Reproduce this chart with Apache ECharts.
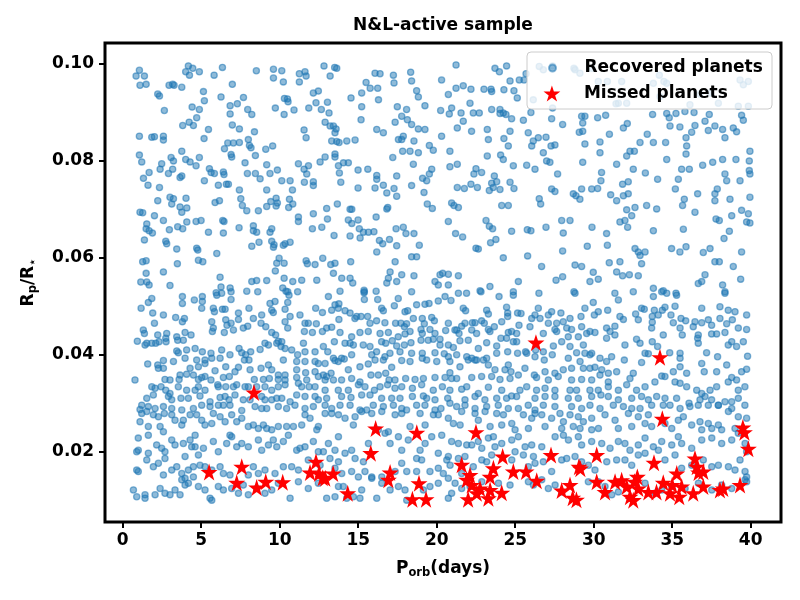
<!DOCTYPE html>
<html>
<head>
<meta charset="utf-8">
<script src="https://cdn.jsdelivr.net/npm/echarts@6/dist/echarts.min.js"></script>
<style>
  html, body { margin: 0; padding: 0; background: #fff; }
  #container { width: 800px; height: 600px; }
</style>
</head>
<body>
<div id="container"></div>
<script>
// ticks
const xTicks = [0, 5, 10, 15, 20, 25, 30, 35, 40];
const yTicks = [0.02, 0.04, 0.06, 0.08, 0.10];

// [P_orb (days), Rp/R*], upper half
const recoveredUpper = [
  [0.85,0.0975],[1.06,0.0987],[1.38,0.0975],[1.1,0.0956],[1.49,0.0958],[2.23,0.0938],[2.34,0.0934],[2.95,0.0956],[3.18,0.0958],[3.27,0.0956],[3.76,0.0952],[2.65,0.0904],[4.01,0.0984],[4.18,0.0996],[4.25,0.0977],[4.46,0.0991],[4.88,0.0984],[5.14,0.0943],[5.2,0.0924],[4.88,0.0906],[4.71,0.0889],[4.23,0.088],[3.82,0.0873],[4.5,0.0873],[4.42,0.0911],[5.46,0.0865],[5.18,0.0846],[5.82,0.0977],[6.35,0.0993],[6.26,0.0932],[6.98,0.0958],[6.84,0.0914],[6.84,0.0897],[6.98,0.0874],[7.3,0.0918],[7.43,0.0866],[7.69,0.0931],[7.96,0.0906],[8.22,0.0896],[8.51,0.0986],[9.6,0.0989],[10.13,0.0986],[9.6,0.0971],[10.23,0.0963],[9.72,0.0909],[10.3,0.0929],[10.49,0.0928],[10.53,0.0922],[10.28,0.0896],[10.91,0.0905],[11.25,0.098],[11.61,0.0984],[11.68,0.0975],[11.25,0.0963],[11.55,0.0864],[11.68,0.0848],[12.14,0.094],[12.46,0.0944],[12.31,0.092],[11.85,0.0909],[12.65,0.0906],[12.82,0.0996],[13.5,0.0993],[13.63,0.0991],[13.21,0.0975],[13.04,0.0921],[13.14,0.0899],[12.89,0.088],[13.21,0.0872],[13.42,0.0872],[13.52,0.0858],[13.59,0.0866],[13.63,0.084],[13.78,0.0838],[13.31,0.0841],[14.27,0.0841],[14.54,0.093],[15.22,0.094],[15.5,0.0962],[15.76,0.095],[16.07,0.0981],[16.39,0.098],[16.24,0.095],[16.29,0.0926],[15.22,0.0912],[15.18,0.0885],[16.18,0.0865],[16.6,0.0858],[17.24,0.0977],[17.28,0.0961],[17.49,0.0912],[17.35,0.088],[17.56,0.0844],[14.8,0.0843],
  [1.06,0.0851],[1.06,0.0812],[1.21,0.0798],[1.85,0.0849],[2.02,0.085],[2.59,0.0851],[2.59,0.0843],[1.32,0.0764],[1.68,0.0776],[1.61,0.075],[2.38,0.0783],[2.48,0.0794],[2.91,0.0774],[3.08,0.0807],[3.23,0.08],[3.18,0.0783],[3.76,0.082],[4.01,0.0803],[3.65,0.0766],[3.76,0.0769],[4.29,0.0798],[4.67,0.079],[4.88,0.0807],[5.2,0.0759],[5.52,0.0784],[5.63,0.0776],[5.84,0.0774],[6.41,0.0777],[6.45,0.0772],[6.09,0.075],[6.6,0.0752],[6.73,0.0752],[6.48,0.0825],[6.9,0.0813],[6.94,0.0808],[6.69,0.0837],[7.05,0.0837],[7.43,0.0838],[8.0,0.0844],[8.07,0.0832],[8.17,0.0827],[8.45,0.0811],[7.79,0.0796],[7.94,0.0774],[8.45,0.0774],[8.75,0.0763],[8.39,0.086],[9.17,0.0792],[9.38,0.0774],[9.55,0.0831],[9.11,0.0824],[9.85,0.0781],[10.13,0.0759],[10.66,0.0759],[10.81,0.074],[11.19,0.0794],[11.55,0.0783],[11.83,0.079],[11.72,0.0773],[11.57,0.0756],[12.14,0.0749],[12.14,0.0757],[12.57,0.0798],[12.89,0.0808],[13.52,0.0814],[13.52,0.0808],[13.74,0.079],[14.06,0.0796],[14.37,0.0796],[13.8,0.0775],[13.89,0.0756],[14.99,0.0781],[14.99,0.0744],[15.61,0.0783],[16.18,0.0762],[16.18,0.077],[16.6,0.075],[16.07,0.0744],[17.2,0.0807],[17.45,0.0769],[17.28,0.0743],[16.82,0.0734],
  [2.34,0.0745],[2.23,0.0718],[3.01,0.0725],[3.12,0.0711],[3.23,0.0722],[4.03,0.0723],[3.65,0.0705],[3.76,0.0694],[4.08,0.0703],[1.1,0.0694],[1.27,0.0693],[2.02,0.0687],[1.53,0.067],[1.49,0.066],[1.68,0.0656],[1.89,0.0651],[1.38,0.0637],[2.59,0.0677],[2.97,0.0658],[2.74,0.0634],[2.8,0.0629],[3.44,0.0618],[3.5,0.0664],[3.82,0.066],[4.08,0.0674],[4.67,0.0675],[4.99,0.0677],[4.71,0.062],[4.78,0.0616],[5.46,0.0653],[5.88,0.0714],[6.16,0.0718],[6.37,0.0677],[6.45,0.0675],[6.41,0.0651],[5.99,0.0609],[7.41,0.0662],[7.62,0.0708],[7.52,0.0722],[7.43,0.074],[7.9,0.0697],[8.32,0.0666],[8.32,0.0656],[8.53,0.0653],[8.68,0.0632],[8.22,0.0624],[8.64,0.0697],[9.17,0.0706],[9.38,0.0653],[9.49,0.066],[9.17,0.074],[9.77,0.0723],[9.85,0.0713],[9.43,0.0716],[9.77,0.0707],[9.49,0.0634],[9.64,0.0627],[9.6,0.0622],[10.23,0.0626],[10.34,0.0629],[9.96,0.0599],[10.62,0.0721],[10.57,0.0704],[10.83,0.0711],[10.66,0.0632],[11.19,0.0684],[11.19,0.0675],[12.08,0.066],[12.14,0.0691],[12.68,0.0663],[12.99,0.0702],[13.46,0.0646],[13.04,0.068],[13.67,0.0711],[14.48,0.07],[14.59,0.07],[14.59,0.0671],[14.48,0.0645],[14.37,0.0678],[14.99,0.0678],[15.07,0.066],[15.12,0.0641],[15.33,0.0653],[15.65,0.0653],[16.0,0.0654],[16.14,0.0684],[16.35,0.0636],[16.56,0.0629],[16.82,0.0701],[16.88,0.0704],[16.99,0.0638],[17.41,0.066],[17.45,0.0625],[17.45,0.0727],[16.18,0.0612],[17.35,0.0592],
  [1.27,0.0592],[1.49,0.0594],[1.49,0.0568],[1.15,0.055],[1.53,0.055],[1.68,0.0544],[2.59,0.0571],[3.01,0.0543],[3.48,0.0588],[4.82,0.0595],[5.1,0.0592],[6.2,0.056],[6.26,0.054],[5.95,0.0528],[6.84,0.0538],[8.22,0.0551],[8.53,0.0553],[9.17,0.0553],[9.81,0.0589],[9.72,0.0573],[10.28,0.0589],[10.28,0.0558],[10.19,0.0538],[10.83,0.0551],[10.4,0.0531],[11.4,0.0554],[11.68,0.0594],[11.76,0.0588],[12.25,0.0586],[12.36,0.0554],[12.74,0.0599],[13.25,0.0586],[13.42,0.0568],[13.52,0.0589],[13.95,0.0558],[14.52,0.0592],[14.48,0.0558],[14.65,0.0548],[15.37,0.0533],[15.37,0.0528],[16.82,0.0548],[16.92,0.0558],[17.03,0.0571],[17.45,0.0551],[16.14,0.0531],[13.84,0.0531],[7.9,0.0531],
  [21.23,0.0998],[18.34,0.0983],[18.4,0.0965],[18.72,0.0945],[18.83,0.0932],[20.31,0.0967],[20.74,0.0937],[21.23,0.095],[21.69,0.0955],[22.18,0.0948],[23.01,0.0948],[23.46,0.0948],[23.5,0.0943],[23.71,0.0991],[23.99,0.0984],[24.45,0.0996],[24.67,0.0965],[24.92,0.0945],[25.13,0.093],[25.26,0.0967],[25.56,0.0967],[25.69,0.098],[24.28,0.0947],[22.12,0.0919],[21.55,0.0899],[20.95,0.0909],[20.25,0.0904],[20.8,0.0897],[19.25,0.0914],[18.08,0.0906],[17.77,0.0892],[22.33,0.0899],[22.71,0.0899],[23.5,0.0906],[24.03,0.0906],[24.24,0.0899],[24.41,0.0896],[24.77,0.0887],[24.03,0.0898],[25.52,0.0884],[26.0,0.09],[27.38,0.0996],[26.53,0.0995],[26.79,0.0988],[28.74,0.0991],[28.81,0.0988],[30.29,0.0964],[30.87,0.0964],[31.78,0.0964],[31.57,0.0919],[32.1,0.0919],[31.42,0.0918],[33.8,0.096],[34.18,0.0977],[34.47,0.0964],[34.65,0.096],[34.22,0.0933],[36.13,0.0916],[36.77,0.0938],[37.41,0.094],[37.94,0.0919],[39.32,0.0967],[39.85,0.0964],[39.53,0.0957],[39.21,0.0913],[39.85,0.0913],[26.15,0.0926],[27.38,0.0909],[29.12,0.0981],[29.87,0.0991],
  [29.23,0.0892],[29.3,0.0878],[29.44,0.0892],[30.25,0.0889],[30.76,0.0894],[32.14,0.0877],[31.89,0.0868],[33.75,0.0896],[34.65,0.0898],[34.81,0.0889],[35.24,0.0898],[35.49,0.087],[35.81,0.0902],[36.39,0.09],[37.09,0.0882],[37.36,0.0896],[39.42,0.0894],[39.53,0.0884],[38.89,0.0868],[38.21,0.0865],[38.36,0.0848],[39.1,0.086],[37.72,0.0872],[37.3,0.0863],[36.45,0.0873],[36.24,0.0859],[35.88,0.0848],[35.92,0.0831],[35.88,0.0814],[34.86,0.0872],[34.58,0.0838],[33.8,0.0838],[33.41,0.0855],[32.95,0.0838],[32.31,0.082],[32.59,0.082],[32.1,0.081],[31.0,0.0855],[30.4,0.0839],[30.4,0.0817],[29.44,0.0835],[29.08,0.0859],[29.3,0.0861],[28.02,0.0875],[27.32,0.0887],[27.28,0.0831],[27.53,0.0833],[26.79,0.0817],[27.0,0.08],[27.21,0.0797],[26.96,0.0849],[26.47,0.0848],[26.15,0.0841],[26.05,0.0831],[25.83,0.0858],[24.67,0.0861],[24.28,0.0846],[24.56,0.0831],[24.07,0.0812],[24.24,0.0803],[23.22,0.0865],[23.29,0.0844],[23.22,0.081],[22.22,0.0861],[21.69,0.0882],[21.31,0.0868],[20.84,0.082],[19.53,0.0832],[19.78,0.0822],[19.25,0.0865],[18.83,0.0866],[18.4,0.0875],[18.13,0.0885],[17.87,0.0851],[17.77,0.0844],[18.55,0.0841],[18.83,0.0817],[18.3,0.082],[17.83,0.082],[20.31,0.0851],
  [18.51,0.0793],[19.68,0.0783],[19.53,0.0773],[19.1,0.0764],[19.36,0.0759],[18.4,0.0749],[19.19,0.0735],[19.4,0.0711],[19.72,0.0702],[20.84,0.0788],[21.31,0.0793],[20.95,0.0713],[21.1,0.0708],[21.38,0.0704],[21.31,0.0745],[21.76,0.0743],[22.18,0.0752],[22.5,0.0784],[22.37,0.0773],[22.86,0.0776],[22.59,0.0745],[23.35,0.0739],[23.6,0.0745],[23.5,0.0754],[23.67,0.0769],[23.82,0.0757],[24.03,0.0741],[24.67,0.0756],[24.92,0.0743],[24.88,0.079],[25.73,0.0791],[26.26,0.0783],[24.14,0.0708],[24.56,0.0708],[26.53,0.0722],[26.62,0.0711],[27.32,0.0742],[27.53,0.0737],[27.7,0.0773],[28.87,0.0728],[29.12,0.0721],[29.23,0.0742],[29.87,0.0742],[30.25,0.0743],[30.46,0.0759],[30.5,0.0776],[31.08,0.073],[31.46,0.0718],[31.46,0.0793],[31.84,0.0752],[31.89,0.0728],[32.2,0.0757],[32.2,0.0732],[32.1,0.0699],[32.63,0.0704],[32.52,0.0783],[33.29,0.0775],[33.37,0.0708],[34.07,0.0762],[34.01,0.0701],[34.65,0.0803],[35.2,0.0742],[35.39,0.0762],[35.6,0.0783],[35.77,0.0721],[35.66,0.0708],[36.09,0.0783],[36.62,0.0732],[36.94,0.0791],[37.58,0.0797],[37.72,0.0732],[37.72,0.0718],[37.87,0.0742],[38.68,0.0721],[38.36,0.0773],[38.47,0.0759],[38.21,0.0803],[39.32,0.0759],[39.95,0.082],[39.91,0.08],[39.91,0.078],[39.95,0.0773],[39.95,0.0725],[39.42,0.0698],[39.06,0.0803],[36.45,0.0694],[29.3,0.0797],[28.7,0.0732],
  [17.87,0.0663],[18.04,0.065],[18.55,0.065],[18.89,0.0626],[18.4,0.0602],[18.72,0.0602],[20.74,0.0675],[21.2,0.065],[21.65,0.0643],[22.5,0.062],[22.65,0.0618],[23.14,0.0677],[23.35,0.0665],[23.56,0.066],[23.43,0.0631],[23.77,0.0638],[24.24,0.06],[24.77,0.0655],[25.77,0.0658],[26.0,0.0656],[25.79,0.0604],[26.96,0.0663],[27.96,0.0677],[28.49,0.0677],[28.06,0.0651],[28.02,0.0614],[29.59,0.0624],[29.89,0.0663],[30.82,0.065],[30.87,0.0626],[31.67,0.0674],[31.99,0.0677],[32.16,0.0663],[32.42,0.0687],[32.63,0.0619],[32.84,0.0612],[32.95,0.0605],[33.27,0.0612],[33.8,0.0656],[34.96,0.0619],[35.49,0.0612],[35.71,0.0659],[35.88,0.0623],[36.98,0.0611],[37.41,0.0619],[37.79,0.068],[38.0,0.0677],[38.79,0.0687],[38.64,0.0655],[38.3,0.064],[37.72,0.0592],[38.0,0.0592],[39.42,0.0612],[39.85,0.0691],[39.74,0.0674],[39.95,0.0672],[38.89,0.0582],
  [17.77,0.0565],[18.55,0.0563],[19.89,0.0551],[20.21,0.0565],[20.38,0.0568],[20.74,0.0566],[21.38,0.0563],[20.1,0.0544],[20.74,0.0544],[22.76,0.0532],[23.39,0.0541],[24.88,0.053],[25.2,0.0551],[26.68,0.0582],[27.6,0.0554],[28.02,0.0561],[28.81,0.0585],[29.23,0.0582],[29.97,0.057],[29.76,0.0551],[30.29,0.0556],[30.99,0.059],[31.46,0.0571],[31.67,0.0592],[31.84,0.0563],[32.27,0.0565],[32.84,0.0563],[33.05,0.0588],[33.8,0.0537],[34.43,0.0532],[35.24,0.0527],[36.66,0.0547],[36.88,0.0551],[37.09,0.0565],[38.21,0.0544],[38.36,0.053],[39.36,0.0556],[28.74,0.053],[21.9,0.0527]
];

const recoveredLower = [
  [1.85,0.0516],[3.8,0.052],[3.8,0.0506],[5.07,0.052],[5.07,0.051],[5.99,0.0523],[6.3,0.0527],[6.9,0.053],[6.9,0.0514],[8.6,0.053],[10.51,0.053],[10.59,0.0523],[11.14,0.053],[13.1,0.052],[5.03,0.0496],[1.17,0.0496],[1.63,0.0508],
  [1.91,0.0486],[2.59,0.0482],[3.37,0.0477],[3.8,0.0468],[3.93,0.0475],[4.56,0.0513],[5.77,0.0496],[5.84,0.0489],[6.35,0.0494],[6.52,0.0494],[6.56,0.0472],[6.9,0.0465],[7.37,0.0486],[7.37,0.0473],[8.04,0.0496],[8.32,0.0475],[8.85,0.0482],[9.38,0.0506],[9.49,0.0492],[9.7,0.051],[9.59,0.0487],[10.34,0.0494],[10.51,0.0508],[10.66,0.0479],[11.29,0.0482],[11.61,0.0465],[12.29,0.0496],[12.72,0.0487],[13.31,0.0492],[13.52,0.0503],[10.34,0.0468],
  [2.02,0.0465],[1.31,0.0451],[1.38,0.0444],[0.93,0.0428],[1.53,0.0424],[2.23,0.0441],[2.31,0.0427],[2.8,0.0444],[2.74,0.0434],[3.44,0.0437],[3.5,0.043],[3.97,0.0446],[3.86,0.043],[4.35,0.0441],[5.67,0.0468],[5.77,0.0455],[5.71,0.0448],[6.47,0.0446],[6.64,0.0461],[7.05,0.0451],[7.68,0.0455],[7.96,0.0459],[8.81,0.0465],[9.11,0.0458],[9.49,0.0446],[9.74,0.0441],[9.91,0.0428],[10.13,0.0427],[10.51,0.0455],[11.82,0.0465],[12.08,0.0446],[12.33,0.0464],[12.72,0.0448],[12.99,0.0455],[13.31,0.0457],[11.57,0.0448],[13.48,0.0427],[11.51,0.0424],
  [1.42,0.042],[1.85,0.0424],[2.1,0.0424],[2.76,0.0427],[3.44,0.0408],[3.54,0.0404],[4.07,0.041],[4.61,0.0413],[5.07,0.0406],[5.62,0.0403],[6.3,0.041],[6.83,0.04],[7.41,0.0413],[7.58,0.0404],[7.83,0.04],[8.04,0.0389],[8.15,0.0406],[7.75,0.0389],[8.75,0.0411],[9.06,0.0424],[9.28,0.042],[9.81,0.0424],[10.08,0.0417],[10.34,0.0413],[10.76,0.041],[11.14,0.04],[11.61,0.0406],[12.25,0.0406],[12.78,0.0417],[13.06,0.0406],[13.42,0.0393],[1.59,0.0381],[2.23,0.0379],[2.59,0.0388],[3.23,0.0386],[3.97,0.0393],[4.71,0.0389],[5.24,0.0389],[5.67,0.0393],[6.2,0.0393],[10.23,0.0389],[11.08,0.0386],[11.61,0.0386],[12.25,0.0386],[12.46,0.0382],[12.89,0.0382],[13.52,0.0388],
  [2.27,0.0372],[2.59,0.0372],[3.65,0.0358],[4.07,0.036],[4.29,0.0372],[4.82,0.0375],[5.24,0.0382],[5.88,0.0367],[6.56,0.0375],[7.37,0.0374],[7.15,0.0365],[8.11,0.0369],[8.81,0.0372],[9.28,0.0379],[9.49,0.0369],[9.91,0.0358],[10.34,0.0358],[11.08,0.0369],[11.65,0.0363],[12.25,0.0365],[12.78,0.0358],[12.89,0.0348],[13.27,0.0362],[0.78,0.0348],[1.85,0.0334],[2.69,0.0349],[3.01,0.0348],[3.59,0.0349],[4.5,0.0358],[4.82,0.0349],[5.03,0.0353],[5.24,0.0355],[5.62,0.0348],[6.05,0.0338],[6.41,0.0353],[6.79,0.0355],[7.26,0.0338],[7.79,0.0334],[8.38,0.0349],[8.96,0.0349],[9.34,0.0351],[9.91,0.0349],[10.34,0.0348],[11.08,0.0353],[11.19,0.0341],[11.72,0.0348],[12.46,0.0355],[12.99,0.0355],[13.42,0.0348],
  [2.06,0.0331],[2.44,0.0334],[2.74,0.0327],[3.01,0.032],[3.54,0.0334],[4.07,0.0327],[4.61,0.0327],[4.82,0.0334],[5.24,0.0327],[6.09,0.0334],[6.56,0.0334],[7.05,0.0334],[8.0,0.0334],[8.53,0.0334],[9.06,0.0334],[9.49,0.0327],[9.91,0.0334],[10.34,0.0338],[11.4,0.0334],[11.87,0.0334],[12.25,0.0334],[12.89,0.0327],[1.53,0.031],[1.95,0.0317],[2.91,0.0314],[3.12,0.0307],[3.71,0.031],[4.18,0.031],[4.92,0.0315],[5.56,0.0303],[6.2,0.0312],[6.52,0.0314],[6.77,0.0307],[7.15,0.0317],[7.68,0.0307],[8.11,0.0307],[8.85,0.0314],[9.06,0.0307],[9.49,0.0307],[9.81,0.031],[10.13,0.031],[10.66,0.0303],[11.08,0.0317],[11.61,0.0314],[12.25,0.0314],[12.46,0.0307],[12.99,0.031],[1.21,0.0296],[1.1,0.0287],[1.63,0.0293],[2.06,0.0289],[2.59,0.0293],[3.12,0.0289],[3.76,0.0286],[4.5,0.0289],[5.03,0.0296],[5.56,0.0293],[6.09,0.0296],[6.41,0.0296],[6.83,0.0296],[7.58,0.0285],[8.43,0.0293],[8.85,0.0289],[9.17,0.0289],[9.91,0.0293],[10.44,0.0289],[10.97,0.0296],[11.61,0.0289],[12.14,0.0293],[12.89,0.0296],[13.31,0.0289],
  [15.39,0.053],[15.39,0.0514],[16.24,0.0514],[17.55,0.0516],[18.4,0.053],[18.72,0.0503],[19.25,0.0504],[19.51,0.0506],[20.1,0.0511],[20.53,0.052],[20.91,0.0512],[21.38,0.0527],[21.69,0.0496],[21.84,0.0491],[22.82,0.053],[23.18,0.0492],[23.29,0.0484],[23.97,0.052],[24.45,0.0498],[24.52,0.0486],[24.88,0.0523],[25.15,0.0486],[25.37,0.0485],[26.26,0.0482],[26.51,0.0527],[26.47,0.0496],[27.11,0.0482],[27.32,0.0489],[27.91,0.0486],[13.77,0.0505],[13.73,0.0496],[14.16,0.0491],[14.48,0.0486],[14.79,0.0475],[14.9,0.0479],[15.18,0.0479],[15.6,0.0479],[13.77,0.0473],[16.49,0.0496],[16.6,0.0491],[17.3,0.0501],[17.98,0.0489],[18.15,0.0491],
  [15.75,0.0465],[16.17,0.047],[16.7,0.0466],[17.38,0.0465],[17.72,0.0465],[17.94,0.0458],[18.08,0.0464],[18.51,0.0475],[19.08,0.0475],[19.21,0.0464],[19.68,0.0477],[19.85,0.047],[20.74,0.0465],[21.27,0.0451],[21.59,0.0459],[21.8,0.0465],[22.27,0.0466],[22.44,0.0466],[22.86,0.047],[23.03,0.0465],[23.29,0.0452],[23.67,0.0458],[24.14,0.0468],[24.52,0.0479],[24.77,0.0448],[25.24,0.0461],[25.94,0.0458],[26.05,0.0475],[26.58,0.0475],[27.11,0.0465],[27.64,0.0465],[28.06,0.0468],[13.84,0.0446],[14.58,0.0437],[15.11,0.0446],[15.64,0.0448],[16.39,0.0444],[16.92,0.0446],[17.55,0.0437],[17.98,0.0443],[18.3,0.0448],[19.0,0.0452],[19.08,0.0444],[19.57,0.0452],[19.89,0.0444],[20.57,0.045],[21.16,0.0451],[21.42,0.0444],[22.23,0.0451],[22.54,0.0444],[23.39,0.0448],[24.56,0.0446],[25.09,0.0444],[26.79,0.0444],[27.53,0.0452],[27.64,0.0448],
  [14.16,0.0424],[14.48,0.0424],[14.69,0.042],[15.32,0.042],[15.75,0.0417],[16.49,0.0427],[16.75,0.0424],[17.17,0.0429],[17.45,0.0418],[17.94,0.042],[18.36,0.0425],[19.0,0.043],[19.46,0.043],[19.78,0.0432],[20.21,0.0432],[20.21,0.042],[20.74,0.042],[21.06,0.0415],[21.48,0.0429],[22.01,0.043],[22.65,0.0413],[23.18,0.0425],[23.82,0.0418],[24.09,0.0434],[24.45,0.0434],[24.88,0.0427],[25.09,0.0427],[25.73,0.0403],[26.3,0.041],[26.79,0.0406],[27.43,0.0418],[27.96,0.0427],[13.94,0.0393],[14.58,0.04],[15.86,0.04],[16.17,0.0406],[16.7,0.0396],[17.02,0.0403],[17.66,0.0406],[18.4,0.0403],[19.08,0.0403],[19.89,0.0404],[20.48,0.0402],[20.74,0.0396],[21.27,0.04],[21.91,0.0396],[22.23,0.0393],[22.54,0.0389],[23.18,0.0393],[23.82,0.0403],[24.52,0.0406],[25.15,0.0403],[25.66,0.0406],[26.26,0.0396],[26.85,0.0389],[27.36,0.04],
  [13.73,0.0386],[14.11,0.0391],[14.37,0.0369],[15.11,0.0375],[15.64,0.0381],[16.07,0.0389],[16.6,0.0389],[17.13,0.0374],[17.77,0.0388],[18.3,0.0386],[19.08,0.0393],[19.36,0.0389],[20.0,0.0386],[20.84,0.0386],[21.48,0.0375],[22.01,0.0389],[22.44,0.0389],[22.97,0.0389],[23.29,0.0379],[23.71,0.0369],[24.35,0.0369],[24.56,0.0379],[24.73,0.0365],[25.62,0.0372],[26.22,0.0358],[26.9,0.0365],[27.53,0.0362],[28.06,0.0369],[13.94,0.0348],[14.58,0.0351],[15.11,0.0344],[15.81,0.0358],[16.28,0.0358],[16.75,0.0362],[16.96,0.0348],[17.34,0.0348],[18.02,0.0351],[18.62,0.0349],[19.15,0.0351],[19.89,0.0353],[20.53,0.0353],[20.84,0.0363],[20.95,0.0351],[21.27,0.0351],[22.23,0.0353],[22.86,0.0355],[23.5,0.0355],[24.03,0.0349],[24.67,0.0351],[25.2,0.0358],[26.36,0.0353],[27.11,0.0348],[27.74,0.0355],
  [13.73,0.0327],[14.37,0.0327],[15.01,0.0338],[15.43,0.0334],[16.03,0.0327],[16.39,0.0334],[16.87,0.0338],[17.34,0.0331],[17.77,0.0334],[18.45,0.0331],[19.04,0.0338],[19.78,0.0327],[20.36,0.0334],[20.84,0.0327],[21.59,0.0329],[21.91,0.0334],[22.65,0.032],[23.29,0.0333],[24.14,0.0327],[24.77,0.0315],[25.3,0.0327],[25.73,0.0334],[26.36,0.0327],[26.9,0.0331],[27.53,0.0327],[13.94,0.0314],[14.54,0.0312],[15.22,0.0317],[15.75,0.0317],[16.49,0.031],[17.13,0.031],[17.66,0.031],[18.45,0.0314],[19.15,0.0315],[19.36,0.031],[19.89,0.0307],[20.7,0.031],[21.8,0.0307],[22.44,0.0314],[23.07,0.0307],[23.82,0.031],[24.45,0.031],[25.09,0.0314],[26.26,0.031],[26.9,0.0314],[27.53,0.0314],[13.84,0.0296],[14.48,0.0296],[15.11,0.0286],[15.54,0.0286],[15.96,0.0296],[16.6,0.0293],[17.24,0.0296],[17.77,0.0289],[18.08,0.0286],[18.72,0.0296],[19.25,0.0296],[19.89,0.0286],[20.27,0.0289],[20.84,0.03],[21.27,0.0293],[21.8,0.0296],[22.44,0.0289],[23.18,0.0293],[23.92,0.0296],[24.56,0.0289],[25.2,0.0289],[25.83,0.0296],[26.26,0.0286],[26.79,0.0296],[27.53,0.0293],
  [28.81,0.0527],[29.97,0.0508],[30.89,0.0492],[31.35,0.0527],[31.57,0.0513],[32.52,0.053],[33.8,0.052],[34.33,0.053],[34.65,0.0527],[35.28,0.0523],[35.18,0.05],[34.54,0.0498],[33.86,0.0492],[33.05,0.0496],[33.22,0.0494],[36.88,0.0496],[38.04,0.0499],[38.36,0.0527],[38.57,0.0492],[39.0,0.0489],[39.74,0.0482],[29.44,0.0496],[30.29,0.0489],[29.19,0.0479],[30.04,0.0482],[28.49,0.0475],
  [28.28,0.0455],[28.59,0.0452],[29.23,0.0458],[29.76,0.0448],[30.08,0.0446],[30.82,0.0455],[31.04,0.0448],[31.35,0.0459],[31.89,0.0473],[31.67,0.0479],[32.67,0.0484],[32.84,0.0472],[33.73,0.0479],[33.73,0.0467],[34.11,0.0482],[34.37,0.0492],[34.92,0.0482],[35.07,0.0466],[35.56,0.0475],[35.86,0.047],[36.34,0.0458],[36.45,0.0468],[36.88,0.0466],[37.3,0.0472],[37.51,0.0461],[38.04,0.0475],[38.47,0.0464],[38.83,0.0472],[39.21,0.0455],[39.74,0.0452],[33.69,0.0455],[34.43,0.0441],[35.5,0.0455],[35.64,0.0441],[36.66,0.0441],[37.51,0.0443],[37.83,0.0443],[38.36,0.0446],
  [28.38,0.0437],[29.02,0.0437],[29.34,0.042],[29.55,0.0444],[29.87,0.0403],[30.82,0.0434],[31.35,0.0441],[31.99,0.042],[32.73,0.0432],[32.95,0.0424],[33.73,0.0427],[33.27,0.0403],[33.48,0.0402],[34.07,0.0417],[34.84,0.0404],[35.5,0.0403],[35.5,0.0393],[36.62,0.0434],[36.66,0.0424],[37.19,0.0404],[37.89,0.0396],[38.57,0.042],[38.79,0.0427],[39.1,0.0417],[39.53,0.0427],[39.8,0.0397],[28.49,0.0417],[28.91,0.0404],[28.38,0.0393],[29.44,0.0403],[29.76,0.04],[30.4,0.0393],[30.82,0.0386],[31.14,0.0396],[31.95,0.0389],
  [28.59,0.0372],[29.13,0.0386],[29.34,0.0372],[29.76,0.0372],[30.08,0.0374],[30.51,0.0369],[30.93,0.0362],[31.46,0.0365],[32.52,0.0362],[32.31,0.0351],[33.05,0.0384],[34.33,0.0356],[35.07,0.0365],[35.5,0.0375],[35.92,0.0362],[36.88,0.0382],[37.04,0.0365],[37.83,0.0365],[38.47,0.0379],[38.79,0.0353],[39.1,0.0348],[39.42,0.0365],[39.74,0.037],[28.59,0.0348],[29.23,0.0349],[29.87,0.0348],[30.4,0.0358],[30.93,0.0344],
  [28.49,0.0327],[28.91,0.0327],[29.76,0.0327],[30.29,0.0327],[30.93,0.0334],[31.57,0.0327],[32.1,0.0338],[32.73,0.0327],[33.27,0.0334],[33.9,0.0344],[34.54,0.0355],[35.18,0.0344],[35.5,0.0341],[35.92,0.0334],[36.56,0.0327],[36.88,0.032],[37.41,0.0327],[37.83,0.0334],[38.57,0.0344],[39.21,0.0327],[39.63,0.0334],[28.38,0.031],[29.02,0.031],[29.87,0.0314],[30.46,0.0317],[30.93,0.0314],[31.57,0.0307],[32.42,0.031],[33.05,0.0314],[33.48,0.0307],[34.01,0.0314],[34.54,0.031],[35.28,0.031],[36.07,0.03],[36.77,0.0307],[37.09,0.0314],[37.51,0.0307],[37.94,0.0296],[38.36,0.0303],[38.79,0.0303],[39.21,0.031],[28.59,0.0293],[29.23,0.0289],[29.76,0.0296],[30.4,0.0289],[31.25,0.0296],[31.89,0.0293],[32.42,0.0289],[32.95,0.0289],[33.69,0.0296],[34.43,0.0296],[34.86,0.0296],[35.5,0.0289],[36.13,0.0293],[36.66,0.0296],[37.3,0.0296],[37.94,0.0296],[38.79,0.0289],[39.63,0.0296],
  [1.21,0.0279],[1.53,0.0283],[1.95,0.0276],[2.27,0.0272],[2.65,0.0279],[3.12,0.0276],[3.33,0.0265],[3.86,0.0265],[4.29,0.0276],[4.71,0.0276],[5.03,0.0265],[5.24,0.0255],[5.67,0.0258],[5.77,0.0279],[6.2,0.0272],[6.52,0.0262],[6.94,0.0276],[7.26,0.0262],[7.58,0.0269],[8.0,0.0252],[8.32,0.0255],[8.64,0.0248],[8.96,0.0255],[9.17,0.0248],[9.49,0.0245],[9.91,0.0252],[10.44,0.0252],[10.87,0.0252],[11.4,0.0255],[11.61,0.0276],[11.93,0.0269],[12.36,0.0245],[12.46,0.0252],[12.89,0.0279],[13.31,0.0279],[13.74,0.0276],[14.16,0.0269],[14.69,0.0255],[14.8,0.0272],[15.22,0.0283],[15.86,0.0279],[16.5,0.0283],[16.92,0.0241],[17.35,0.0276],[17.77,0.0279],[18.3,0.0252],[18.94,0.0279],[19.26,0.0255],[19.79,0.0276],[20.1,0.0276],[1.1,0.0262],[1.63,0.0252],[2.38,0.0252],[2.59,0.0241],[3.76,0.0255],[4.61,0.0234],[4.29,0.0224],[0.99,0.0228],[1.63,0.0234],
  [0.89,0.02],[0.99,0.0203],[1.63,0.0197],[2.16,0.0214],[2.48,0.0207],[2.69,0.02],[2.69,0.0186],[3.12,0.0224],[3.33,0.0214],[3.86,0.0217],[3.97,0.019],[4.39,0.021],[4.61,0.021],[4.82,0.0193],[5.14,0.0207],[5.77,0.0221],[6.09,0.02],[6.62,0.0217],[6.94,0.0231],[6.83,0.0234],[7.26,0.021],[7.58,0.0217],[8.0,0.021],[8.64,0.0224],[8.85,0.0203],[9.28,0.0214],[9.59,0.0224],[9.81,0.021],[10.23,0.0221],[10.55,0.0234],[11.08,0.0203],[11.29,0.0207],[11.61,0.021],[12.14,0.0221],[12.46,0.02],[12.78,0.02],[13.1,0.0217],[13.52,0.0203],[13.74,0.0231],[14.16,0.0197],[14.58,0.0203],[14.8,0.0186],[15.33,0.0179],[15.65,0.0217],[16.28,0.0245],[16.71,0.0238],[17.03,0.0217],[17.56,0.0231],[17.77,0.0203],[18.19,0.0224],[18.72,0.0186],[18.94,0.0203],[19.26,0.0217],[19.68,0.0231],[20.1,0.0197],[20.32,0.0234],
  [0.89,0.0162],[0.99,0.0159],[1.53,0.0183],[1.95,0.0169],[2.27,0.0176],[2.59,0.0152],[3.12,0.0162],[3.44,0.0169],[3.76,0.0155],[3.97,0.0145],[4.18,0.0162],[4.5,0.0169],[4.92,0.0172],[5.24,0.0169],[5.67,0.0162],[6.2,0.0169],[6.41,0.0155],[6.83,0.0152],[8.0,0.0152],[8.32,0.0169],[8.64,0.0155],[9.06,0.0162],[9.7,0.0155],[10.23,0.0169],[10.76,0.0169],[11.19,0.0162],[11.82,0.0183],[12.57,0.0172],[13.2,0.0186],[13.52,0.0166],[13.74,0.0179],[13.95,0.0155],[14.58,0.0159],[15.01,0.0148],[15.43,0.0159],[15.86,0.0148],[16.5,0.0148],[17.35,0.0159],[17.77,0.0176],[18.09,0.0159],[18.72,0.0159],[19.04,0.0183],[19.57,0.0159],[20.1,0.0166],[20.42,0.0155],
  [0.68,0.0121],[0.89,0.0107],[1.42,0.0111],[1.42,0.0104],[2.06,0.0111],[2.38,0.0124],[2.69,0.0114],[3.01,0.0111],[3.33,0.0121],[3.65,0.0111],[3.76,0.0142],[3.97,0.0131],[4.18,0.0135],[4.5,0.0148],[4.82,0.0128],[5.24,0.0121],[5.56,0.0104],[5.67,0.01],[6.09,0.0128],[6.41,0.0121],[6.94,0.0124],[7.37,0.0114],[7.68,0.0131],[8.0,0.0111],[8.53,0.0124],[9.06,0.0114],[9.49,0.0121],[9.91,0.0135],[10.66,0.0104],[11.19,0.0138],[11.82,0.0124],[12.46,0.0135],[12.99,0.0104],[13.52,0.0107],[13.74,0.0128],[14.05,0.0128],[14.27,0.0104],[14.69,0.0107],[15.11,0.0104],[15.22,0.0121],[15.86,0.0145],[16.18,0.0104],[16.5,0.0135],[17.03,0.0121],[17.56,0.0128],[17.98,0.0121],[18.09,0.01],[19.15,0.0121],[19.57,0.0128],[20.1,0.0135],
  [20.74,0.0269],[21.06,0.0258],[21.49,0.0255],[21.59,0.0283],[22.44,0.0279],[22.65,0.0265],[23.08,0.0283],[23.82,0.0279],[24.25,0.0276],[24.78,0.0258],[25.52,0.0276],[26.05,0.0269],[26.26,0.0279],[26.69,0.0276],[27.32,0.0269],[27.85,0.0279],[28.07,0.0262],[28.49,0.0276],[29.02,0.0272],[29.34,0.0262],[29.87,0.0269],[30.3,0.0248],[30.72,0.0276],[31.36,0.0265],[32.21,0.0279],[32.84,0.0272],[33.48,0.0276],[34.54,0.0258],[35.39,0.0265],[35.71,0.0272],[36.24,0.0255],[36.77,0.0262],[37.3,0.0258],[37.94,0.0255],[38.58,0.0283],[39.21,0.0272],[39.74,0.0269],[23.4,0.0252],[24.14,0.0255],[24.99,0.0245],[25.84,0.0248],[26.9,0.0252],[27.96,0.0248],[28.7,0.0252],[29.13,0.0248],[29.87,0.0245],[31.57,0.0248],[32.42,0.0252],[33.27,0.0258],[33.69,0.0252],[34.97,0.0248],[36.88,0.0245],[37.52,0.0248],[38.15,0.0245],[39.0,0.0248],
  [20.95,0.0221],[21.38,0.0217],[21.91,0.0214],[22.23,0.0214],[22.65,0.0221],[22.87,0.0207],[23.29,0.0228],[23.61,0.0231],[23.71,0.021],[24.14,0.0217],[24.78,0.0224],[25.2,0.0231],[25.63,0.021],[26.05,0.0214],[26.69,0.021],[27.54,0.0231],[28.07,0.0234],[28.39,0.0224],[29.02,0.0231],[29.23,0.0214],[29.87,0.0221],[30.51,0.0217],[31.04,0.0207],[31.57,0.0221],[31.99,0.0217],[32.31,0.0203],[32.84,0.0214],[33.27,0.0228],[33.8,0.021],[34.33,0.0221],[34.97,0.0214],[35.39,0.0231],[35.6,0.0217],[36.24,0.0207],[36.88,0.0224],[37.52,0.0228],[38.15,0.0217],[38.79,0.0224],[39.21,0.0238],[39.64,0.0217],[39.74,0.02],[20.74,0.019],[21.8,0.019],
  [20.64,0.0183],[20.85,0.0172],[21.38,0.0186],[21.59,0.0155],[22.33,0.0169],[22.87,0.0183],[23.18,0.0179],[23.5,0.0193],[24.78,0.0183],[24.99,0.02],[25.52,0.0193],[26.16,0.019],[26.79,0.0179],[27.32,0.0159],[27.96,0.0183],[28.28,0.0186],[28.81,0.019],[29.23,0.0179],[29.66,0.0172],[30.08,0.0162],[30.83,0.0179],[31.46,0.0183],[31.99,0.0183],[32.42,0.0172],[32.84,0.0193],[33.27,0.0197],[34.12,0.0203],[34.54,0.0183],[35.18,0.0193],[35.6,0.0166],[36.24,0.0172],[36.98,0.0183],[37.52,0.0169],[37.94,0.0172],[38.58,0.0169],[39.0,0.0162],[39.32,0.0183],[39.64,0.0159],[39.74,0.0148],[25.84,0.0169],[26.26,0.0176],
  [20.74,0.0145],[21.17,0.0135],[21.59,0.0124],[20.95,0.0114],[20.74,0.0104],[22.12,0.0128],[22.87,0.0138],[23.93,0.0135],[24.67,0.0131],[25.84,0.0138],[26.16,0.0131],[26.69,0.0142],[27.11,0.0124],[27.54,0.0131],[27.96,0.0117],[29.66,0.0138],[30.3,0.0138],[30.72,0.0128],[31.15,0.0111],[31.57,0.0117],[32.63,0.0131],[33.27,0.0135],[33.91,0.0114],[34.33,0.0121],[34.97,0.0128],[35.82,0.0124],[36.67,0.0135],[37.52,0.0121],[38.15,0.0131],[38.79,0.0124],[39.64,0.0142],[39.74,0.0138]
];

const missed = [
  [8.36,0.0322],[16.11,0.0248],[15.8,0.0197],[5.5,0.0158],[7.58,0.0169],[7.26,0.0136],[8.53,0.0126],[9.11,0.0138],[10.19,0.0137],[12.31,0.0179],[11.93,0.0157],[12.5,0.0155],[12.9,0.0145],[13.4,0.0155],[12.74,0.0146],[14.33,0.0114],[17.03,0.0157],[16.92,0.0142],
  [18.73,0.0239],[26.32,0.0425],[34.22,0.0395],[34.37,0.0268],[39.5,0.025],[39.6,0.024],[39.85,0.0206],[22.5,0.024],[18.87,0.0135],[18.45,0.0102],[19.32,0.0102],[21.59,0.0173],[22.12,0.0152],[21.91,0.0142],[22.23,0.0131],[22.76,0.0124],[22.0,0.0102],[22.55,0.0114],[23.29,0.0104],[23.4,0.0121],[23.61,0.0166],[23.4,0.0148],[24.14,0.0115],[24.2,0.019],[24.88,0.0159],[25.69,0.0159],[26.37,0.014],[27.28,0.0193],[27.96,0.012],[28.49,0.0131],[28.66,0.0105],[28.9,0.0101],[29.06,0.0169],[29.15,0.0165],[30.19,0.0193],[30.19,0.0138],[30.72,0.0117],[31.36,0.0138],[31.78,0.0141],[32.1,0.0128],[32.31,0.0107],[32.52,0.01],[32.78,0.0148],[32.84,0.0124],[32.6,0.0138],[33.48,0.0117],[33.84,0.0177],[34.0,0.0117],[34.43,0.0136],[34.86,0.0114],[35.0,0.0131],[35.29,0.0155],[35.45,0.0107],[35.6,0.0128],[36.34,0.0114],[36.45,0.0186],[36.56,0.0169],[36.68,0.0157],[36.98,0.0159],[36.98,0.0128],[38.04,0.0121],[38.25,0.0124],[39.32,0.0131]
];

const recovered = recoveredUpper.concat(recoveredLower);

const starPath = 'path://M50,0 L61.2,34.5 L97.6,34.5 L68.2,55.9 L79.4,90.5 L50,69.1 L20.6,90.5 L31.8,55.9 L2.4,34.5 L38.8,34.5 Z';
const font = 'DejaVu Sans';
const blue = 'rgba(31,119,180,0.5)';

var dom = document.getElementById('container');
var myChart = echarts.init(dom, null, { renderer: 'canvas' });

var option = {
  animation: false,
  backgroundColor: '#fff',
  textStyle: { fontFamily: font },
  title: {
    text: 'N&L-active sample',
    left: 443,
    textAlign: 'center',
    top: 17,
    padding: 0,
    textStyle: { fontFamily: font, fontSize: 17, fontWeight: 'bold', color: '#000' }
  },
  grid: {
    left: 105, right: 19, top: 43, bottom: 78,
    show: true, borderColor: '#000', borderWidth: 3,
    outerBoundsMode: 'none'
  },
  legend: [
    {
      data: [{ name: 'Recovered planets', icon: 'circle' }],
      left: 548, top: 59.5, padding: 0,
      itemWidth: 54, itemHeight: 7,
      z: 20,
      textStyle: { fontFamily: font, fontSize: 17, fontWeight: 'bold', color: '#000' }
    },
    {
      data: [{ name: 'Missed planets', icon: starPath }],
      left: 543.5, top: 85, padding: 0,
      itemWidth: 54, itemHeight: 16,
      z: 20,
      textStyle: { fontFamily: font, fontSize: 17, fontWeight: 'bold', color: '#000' }
    }
  ],
  graphic: [{
    type: 'rect',
    z: 10,
    shape: { x: 527, y: 52, width: 245, height: 57, r: 4 },
    style: { fill: 'rgba(255,255,255,0.8)', stroke: '#cccccc', lineWidth: 1 }
  }],
  xAxis: {
    type: 'value',
    min: -1.13, max: 41.93,
    name: '{b|P}{s|orb}{b|(days)}',
    nameLocation: 'middle',
    nameGap: 37,
    nameTextStyle: {
      rich: {
        b: { fontFamily: font, fontSize: 17, fontWeight: 'bold', color: '#000', lineHeight: 20 },
        s: { fontFamily: font, fontSize: 11.5, fontWeight: 'bold', color: '#000', lineHeight: 12, verticalAlign: 'bottom' }
      }
    },
    splitLine: { show: false },
    axisLine: { show: false, onZero: false },
    axisTick: { show: true, customValues: xTicks, length: 6, lineStyle: { color: '#000', width: 2 } },
    axisLabel: {
      customValues: xTicks, margin: 10,
      fontFamily: font, fontSize: 17, fontWeight: 'bold', color: '#000'
    }
  },
  yAxis: {
    type: 'value',
    min: 0.00549, max: 0.10433,
    name: '{b|R}{s|p}{b|/R}{s|⋆}',
    nameLocation: 'middle',
    nameGap: 66,
    nameTextStyle: {
      rich: {
        b: { fontFamily: font, fontSize: 17, fontWeight: 'bold', color: '#000', lineHeight: 20 },
        s: { fontFamily: font, fontSize: 11.5, fontWeight: 'bold', color: '#000', lineHeight: 12, verticalAlign: 'bottom' }
      }
    },
    splitLine: { show: false },
    axisLine: { show: false, onZero: false },
    axisTick: { show: true, customValues: yTicks, length: 6, lineStyle: { color: '#000', width: 2 } },
    axisLabel: {
      customValues: yTicks, margin: 11,
      fontFamily: font, fontSize: 17, fontWeight: 'bold', color: '#000',
      formatter: function (v) { return v.toFixed(2); }
    }
  },
  series: [
    {
      name: 'Recovered planets',
      type: 'scatter',
      data: recovered,
      symbol: 'circle',
      symbolSize: 6.2,
      itemStyle: { color: blue, borderColor: 'rgba(31,119,180,0.55)', borderWidth: 1.3, opacity: 1 },
      emphasis: { disabled: true },
      z: 2
    },
    {
      name: 'Missed planets',
      type: 'scatter',
      data: missed,
      symbol: starPath,
      symbolSize: 17,
      itemStyle: { color: '#ff0000', opacity: 1 },
      emphasis: { disabled: true },
      z: 3
    }
  ]
};

if (option && typeof option === 'object') {
  myChart.setOption(option);
}

window.addEventListener('resize', myChart.resize);
</script>
</body>
</html>
